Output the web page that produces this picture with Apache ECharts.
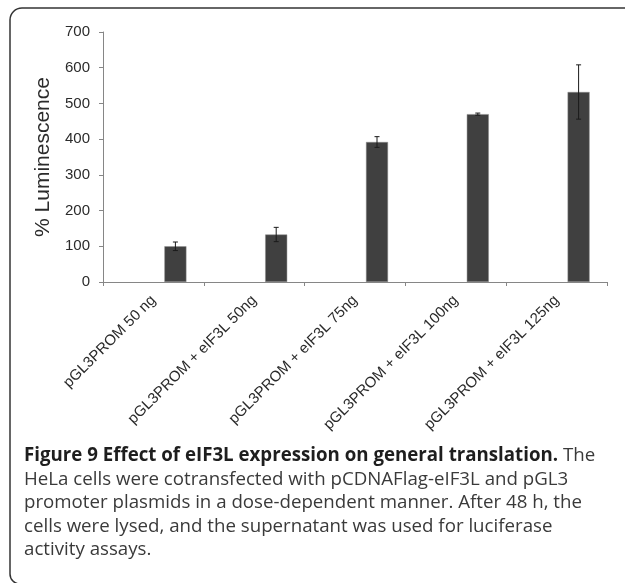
<!DOCTYPE html>
<html><head><meta charset="utf-8">
<script src="https://cdn.jsdelivr.net/npm/echarts@6/dist/echarts.min.js"></script>
<style>html,body{margin:0;padding:0;background:#fff;overflow:hidden}#c{width:625px;height:583px}</style>
</head><body><div id="c"></div>
<script>
const categories = ['pGL3PROM 50 ng', 'pGL3PROM + eIF3L 50ng', 'pGL3PROM + eIF3L 75ng', 'pGL3PROM + eIF3L 100ng', 'pGL3PROM + eIF3L 125ng'];
const luminescence = [100, 133, 392, 470, 532];
const errorSize = [12, 20, 15, 3, 76];
const yMin = 0, yMax = 700, yStep = 100;
const captionBold = 'Figure 9 Effect of eIF3L expression on general translation.';
const captionLines = [
  ' The',
  'HeLa cells were cotransfected with pCDNAFlag-eIF3L and pGL3',
  'promoter plasmids in a dose-dependent manner. After 48 h, the',
  'cells were lysed, and the supernatant was used for luciferase',
  'activity assays.'
];

const BAR_W = 22;
const chart = echarts.init(document.getElementById('c'), null, {renderer: 'canvas'});
const FONT = '"Liberation Sans", Arial, sans-serif';
const CAP_FONT = '"Open Sans", "Noto Sans", sans-serif';
const CAP_SIZE = 18.7;

const capBase = [463, 487, 510, 534, 557];
const frame = {stroke: '#333', lineWidth: 1.5, fill: 'none'};
const graphics = [
  {type: 'line', shape: {x1: 22, y1: 8, x2: 700, y2: 8}, style: frame, silent: true},
  {type: 'line', shape: {x1: 10, y1: 20, x2: 10, y2: 574}, style: frame, silent: true},
  {type: 'line', shape: {x1: 20, y1: 584, x2: 700, y2: 584}, style: frame, silent: true},
  {type: 'arc', shape: {cx: 22, cy: 20, r: 12, startAngle: Math.PI, endAngle: Math.PI * 1.5}, style: frame, silent: true},
  {type: 'arc', shape: {cx: 20, cy: 574, r: 10, startAngle: Math.PI * 0.5, endAngle: Math.PI}, style: frame, silent: true},
  {type: 'text', x: 24, y: capBase[0] - 7, style: {
    text: '{b|' + captionBold + '}' + captionLines[0],
    font: CAP_SIZE + 'px ' + CAP_FONT, fill: '#3a3a3a', verticalAlign: 'middle', align: 'left',
    rich: {b: {fontWeight: 'bold', fontSize: CAP_SIZE, fontFamily: CAP_FONT, fill: '#1e1e1e'}}
  }}
];
for (let i = 1; i < captionLines.length; i++) {
  graphics.push({type: 'text', x: 24, y: capBase[i] - 7, style: {
    text: captionLines[i], font: CAP_SIZE + 'px ' + CAP_FONT, fill: '#3a3a3a',
    verticalAlign: 'middle', align: 'left'}});
}

chart.setOption({
  animation: false,
  backgroundColor: '#fff',
  grid: {left: 103, top: 32, right: 18, bottom: 301, containLabel: false},
  xAxis: {
    type: 'category', data: categories, boundaryGap: true,
    axisLine: {lineStyle: {color: '#868686', width: 1}},
    axisTick: {show: true, length: 4, lineStyle: {color: '#868686'}},
    axisLabel: {rotate: 45, margin: 16, fontSize: 15, color: '#2b2b2b', fontFamily: FONT, interval: 0}
  },
  yAxis: {
    type: 'value', min: yMin, max: yMax, interval: yStep,
    name: '% Luminescence', nameLocation: 'middle', nameGap: 49,
    nameTextStyle: {fontSize: 21, color: '#2b2b2b', fontFamily: FONT},
    axisLine: {show: true, lineStyle: {color: '#868686', width: 1}},
    axisTick: {show: true, length: 4, lineStyle: {color: '#868686'}},
    splitLine: {show: false},
    axisLabel: {fontSize: 15, color: '#2b2b2b', fontFamily: FONT, margin: 13}
  },
  series: [
    {type: 'bar', name: 'blank', data: categories.map(() => null), barWidth: BAR_W, barGap: '100%'},
    {type: 'bar', name: 'Luminescence', data: luminescence, barWidth: BAR_W, barGap: '100%',
     itemStyle: {color: '#404040', borderColor: '#8a8a8a', borderWidth: 0.5}},
    {type: 'custom', name: 'error', z: 5,
     data: luminescence.map((v, i) => [i, v, errorSize[i]]),
     encode: {x: 0, y: 1},
     renderItem: function (params, api) {
       const idx = api.value(0), v = api.value(1), e = api.value(2);
       const top = api.coord([idx, v + e]);
       const bot = api.coord([idx, v - e]);
       const x = top[0] + BAR_W;
       const c = 2.5;
       const st = {stroke: '#1a1a1a', lineWidth: 1};
       return {type: 'group', children: [
         {type: 'line', shape: {x1: x, y1: top[1], x2: x, y2: bot[1]}, style: st},
         {type: 'line', shape: {x1: x - c, y1: top[1], x2: x + c, y2: top[1]}, style: st},
         {type: 'line', shape: {x1: x - c, y1: bot[1], x2: x + c, y2: bot[1]}, style: st}
       ]};
     }}
  ],
  graphic: graphics
});
</script></body></html>
